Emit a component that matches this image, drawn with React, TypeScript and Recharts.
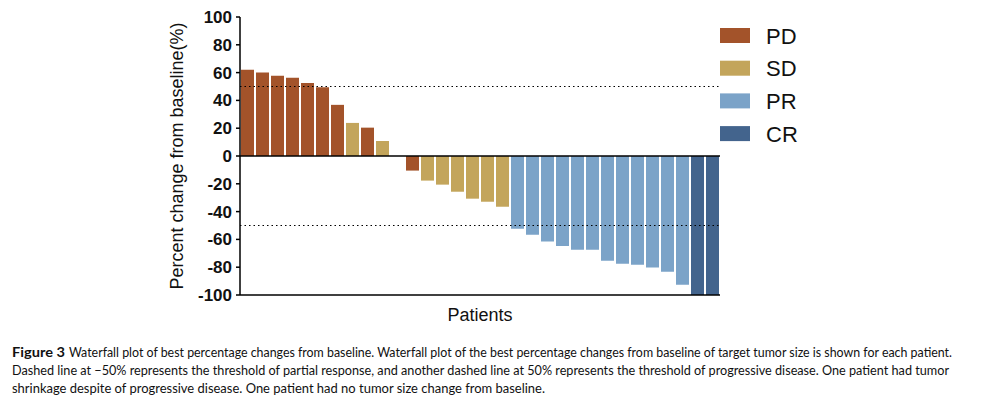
import React from 'react';
import { BarChart, Bar, XAxis, YAxis, ReferenceLine, Cell, Legend } from 'recharts';

const patients = Array.from({ length: 32 }, (_, i) => `P${i + 1}`);
const changes = [
  62, 60, 57.7, 56.3, 52.6, 49.5, 36.8, 23.8, 20.4, 10.8,
  0, -10.5, -17.7, -20.6, -25.7, -30.7, -32.9, -36.5,
  -52.3, -56.6, -61.6, -64.7, -67.4, -67.4, -75.3, -77.5, -78.2, -80.3, -83.2, -92.6,
  -100, -100,
];
const responses = [
  'PD', 'PD', 'PD', 'PD', 'PD', 'PD', 'PD', 'SD', 'PD', 'SD',
  'SD', 'PD', 'SD', 'SD', 'SD', 'SD', 'SD', 'SD',
  'PR', 'PR', 'PR', 'PR', 'PR', 'PR', 'PR', 'PR', 'PR', 'PR', 'PR', 'PR',
  'CR', 'CR',
];
const categories = ['PD', 'SD', 'PR', 'CR'];
const colors: Record<string, string> = {
  PD: '#A3532A',
  SD: '#C3A55B',
  PR: '#7BA3C8',
  CR: '#43648D',
};
const yTicks = [-100, -80, -60, -40, -20, 0, 20, 40, 60, 80, 100];

const data = patients.map((p, i) => ({ patient: p, change: changes[i], response: responses[i] }));

const captionLines = [
  'Waterfall plot of best percentage changes from baseline. Waterfall plot of the best percentage changes from baseline of target tumor size is shown for each patient.',
  'Dashed line at \u221250% represents the threshold of partial response, and another dashed line at 50% represents the threshold of progressive disease. One patient had tumor',
  'shrinkage despite of progressive disease. One patient had no tumor size change from baseline.',
];

const LegendContent = () => (
  <svg width={120} height={130}>
    {categories.map((c, i) => (
      <g key={c}>
        <rect x={2} y={4 + i * 32.7} width={30} height={15} fill={colors[c]} />
        <text
          x={48}
          y={19.5 + i * 32.7}
          fontSize={22}
          fontFamily="Liberation Sans, Arial, sans-serif"
          fill="#111"
        >
          {c}
        </text>
      </g>
    ))}
  </svg>
);

const capFont = 'Lato, sans-serif';

export default function App() {
  return (
    <div style={{ position: 'absolute', left: 0, top: 0, width: 983, height: 412, background: '#fff' }}>
      <BarChart
        width={983}
        height={340}
        data={data}
        margin={{ top: 17, right: 263, left: 114, bottom: 0 }}
        barCategoryGap={1}
      >
        <XAxis
          dataKey="patient"
          tick={false}
          tickLine={false}
          axisLine={{ stroke: '#000', strokeWidth: 1.5 }}
          height={45}
          label={{
            value: 'Patients',
            position: 'insideTop',
            offset: 13,
            fill: '#111',
            fontSize: 18,
            fontFamily: 'Liberation Sans, Arial, sans-serif',
          }}
        />
        <YAxis
          type="number"
          domain={[-100, 100]}
          ticks={yTicks}
          width={126}
          interval={0}
          tickSize={4}
          tickMargin={4}
          axisLine={{ stroke: '#000', strokeWidth: 1.5 }}
          tickLine={{ stroke: '#000', strokeWidth: 1.5 }}
          tick={{ fill: '#111', fontSize: 17, fontWeight: 'bold', fontFamily: 'Liberation Sans, Arial, sans-serif' }}
          label={{
            value: 'Percent change from baseline(%)',
            angle: -90,
            position: 'center',
            fill: '#111',
            fontSize: 18,
            fontFamily: 'Liberation Sans, Arial, sans-serif',
          }}
        />
        <Legend
          layout="vertical"
          align="center"
          verticalAlign="middle"
          content={<LegendContent />}
          wrapperStyle={{ position: 'absolute', left: 718, top: 24, width: 120, height: 130 }}
        />
        <Bar dataKey="change" isAnimationActive={false}>
          {data.map((d, i) => (
            <Cell key={i} fill={colors[d.response]} />
          ))}
        </Bar>
        <ReferenceLine y={0} stroke="#000" strokeWidth={1.5} />
        <ReferenceLine y={50} stroke="#000" strokeWidth={1.2} strokeDasharray="1.5 3" />
        <ReferenceLine y={-50} stroke="#000" strokeWidth={1.2} strokeDasharray="1.5 3" />
      </BarChart>
      <svg width={983} height={72} style={{ position: 'absolute', left: 0, top: 340 }}>
        <text x={12} y={17} fontSize={12.5} fontWeight="bold" fontFamily={capFont} fill="#111" textLength={53} lengthAdjust="spacingAndGlyphs">
          Figure 3
        </text>
        <text x={69} y={17} fontSize={12.5} fontFamily={capFont} fill="#111" textLength={883} lengthAdjust="spacingAndGlyphs">
          {captionLines[0]}
        </text>
        <text x={12} y={35} fontSize={12.5} fontFamily={capFont} fill="#111" textLength={937} lengthAdjust="spacingAndGlyphs">
          {captionLines[1]}
        </text>
        <text x={12} y={53} fontSize={12.5} fontFamily={capFont} fill="#111" textLength={533} lengthAdjust="spacingAndGlyphs">
          {captionLines[2]}
        </text>
      </svg>
    </div>
  );
}
